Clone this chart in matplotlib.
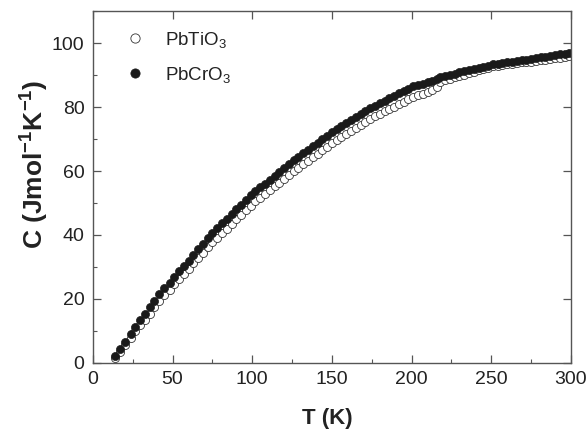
import matplotlib
matplotlib.use('Agg')
import matplotlib.pyplot as plt
from matplotlib.ticker import MultipleLocator

plt.rcParams['font.family'] = ['Liberation Sans', 'DejaVu Sans']
plt.rcParams['mathtext.fontset'] = 'custom'
plt.rcParams['mathtext.rm'] = 'Liberation Sans'
plt.rcParams['mathtext.bf'] = 'Liberation Sans:bold'
plt.rcParams['mathtext.it'] = 'Liberation Sans:italic'

# temperature (K)
temp = [13.8, 16.9, 20.3, 23.7, 26.4, 29.5, 32.6, 35.8, 38.5, 41.6, 44.8, 48.1,
        51, 54, 57, 60, 63, 66, 69, 72, 75, 78, 81, 84, 87, 90, 93, 96, 99,
        102, 105, 108, 111, 114, 117, 120, 123, 126, 129, 132, 135, 138, 141,
        144, 147, 150, 153, 156, 159, 162, 165, 168, 171, 174, 177, 180, 183,
        186, 189, 192, 195, 198, 201, 204, 207, 210, 213, 216, 218, 221, 224,
        227, 230, 233, 236, 239, 242, 245, 248, 251, 254, 257, 260, 263, 266,
        269, 272, 275, 278, 281, 284, 287, 290, 293, 296, 299]

# heat capacity PbCrO3 (J/mol K)
c_pbcro3 = [2.0, 4.3, 6.6, 8.9, 11.2, 13.4, 15.2, 17.3, 19.4, 21.5, 23.3, 25.0,
            26.9, 28.6, 30.3, 32.0, 33.8, 35.5, 37.2, 38.9, 40.6, 42.1, 43.6,
            45.0, 46.5, 48.0, 49.5, 51.0, 52.4, 53.7, 54.9, 56.1, 57.3, 58.5,
            59.8, 61.0, 62.2, 63.4, 64.5, 65.6, 66.7, 67.8, 68.9, 70.0, 71.1,
            72.2, 73.1, 74.1, 75.0, 75.9, 76.9, 77.8, 78.7, 79.7, 80.5, 81.3,
            82.0, 82.8, 83.5, 84.3, 85.0, 85.8, 86.5, 87.0, 87.4, 87.9, 88.3,
            88.8, 89.4, 89.8, 90.1, 90.5, 90.9, 91.2, 91.6, 91.9, 92.3, 92.7,
            93.0, 93.4, 93.6, 93.8, 94.0, 94.3, 94.5, 94.7, 94.9, 95.1, 95.4,
            95.6, 95.8, 96.0, 96.3, 96.5, 96.7, 96.9]

# heat capacity PbTiO3 (J/mol K)
c_pbtio3 = [1.5, 3.5, 5.6, 7.7, 9.8, 11.8, 13.5, 15.4, 17.4, 19.4, 21.1, 22.7,
            24.5, 26.2, 27.8, 29.4, 31.2, 32.8, 34.4, 36.1, 37.7, 39.2, 40.6,
            42.0, 43.4, 44.9, 46.4, 47.8, 49.2, 50.5, 51.6, 52.8, 54.0, 55.2,
            56.4, 57.6, 58.8, 60.0, 61.1, 62.1, 63.2, 64.3, 65.4, 66.5, 67.6,
            68.7, 69.6, 70.6, 71.5, 72.5, 73.5, 74.4, 75.3, 76.3, 77.1, 78.0,
            78.7, 79.5, 80.2, 81.0, 81.7, 82.5, 83.2, 83.7, 84.2, 84.8, 85.4,
            86.2, 87.8, 88.4, 88.8, 89.3, 89.8, 90.2, 90.7, 91.1, 91.6, 92.1,
            92.4, 92.8, 93.0, 93.2, 93.4, 93.6, 93.8, 94.0, 94.1, 94.3, 94.6,
            94.7, 94.9, 95.1, 95.3, 95.5, 95.7, 95.9]

fig = plt.figure(figsize=(5.88, 4.29), dpi=100)
ax = fig.add_axes([0.158, 0.1545, 0.813, 0.819])

ax.plot(temp, c_pbtio3, 'o', ms=5.8, mfc='white', mec='#333333', mew=0.6,
        label='PbTiO$_3$')
ax.plot(temp, c_pbcro3, 'o', ms=5.8, mfc='#1a1a1a', mec='#1a1a1a', mew=0.5,
        label='PbCrO$_3$')

ax.set_xlim(0, 300)
ax.set_ylim(0, 110)
ax.xaxis.set_major_locator(MultipleLocator(50))
ax.xaxis.set_minor_locator(MultipleLocator(25))
ax.yaxis.set_major_locator(MultipleLocator(20))
ax.yaxis.set_minor_locator(MultipleLocator(10))

for s in ax.spines.values():
    s.set_color('#555555')
    s.set_linewidth(1.0)

ax.tick_params(which='major', direction='in', length=6, width=0.9,
               color='#555555', top=True, right=True,
               labelsize=14, labelcolor='#222222', pad=6)
ax.tick_params(which='minor', direction='in', length=3, width=0.8,
               color='#555555', top=False, right=False)

ax.set_xlabel('T (K)', fontsize=16, fontweight='bold', color='#222222')
ax.set_ylabel(r'C (Jmol$^{\mathbf{-1}}$K$^{\mathbf{-1}}$)', fontsize=19,
              fontweight='bold', color='#222222', va='center')
ax.xaxis.set_label_coords(0.49, -0.128)
ax.yaxis.set_label_coords(-0.121, 0.565)

leg = ax.legend(loc='upper left', bbox_to_anchor=(0.04, 0.985), frameon=False,
                fontsize=13.5, handlelength=1.0, handletextpad=1.1,
                labelspacing=0.8, borderpad=0.2, markerscale=1.15)
for t in leg.get_texts():
    t.set_color('#222222')

fig.savefig('out.png', dpi=100)
